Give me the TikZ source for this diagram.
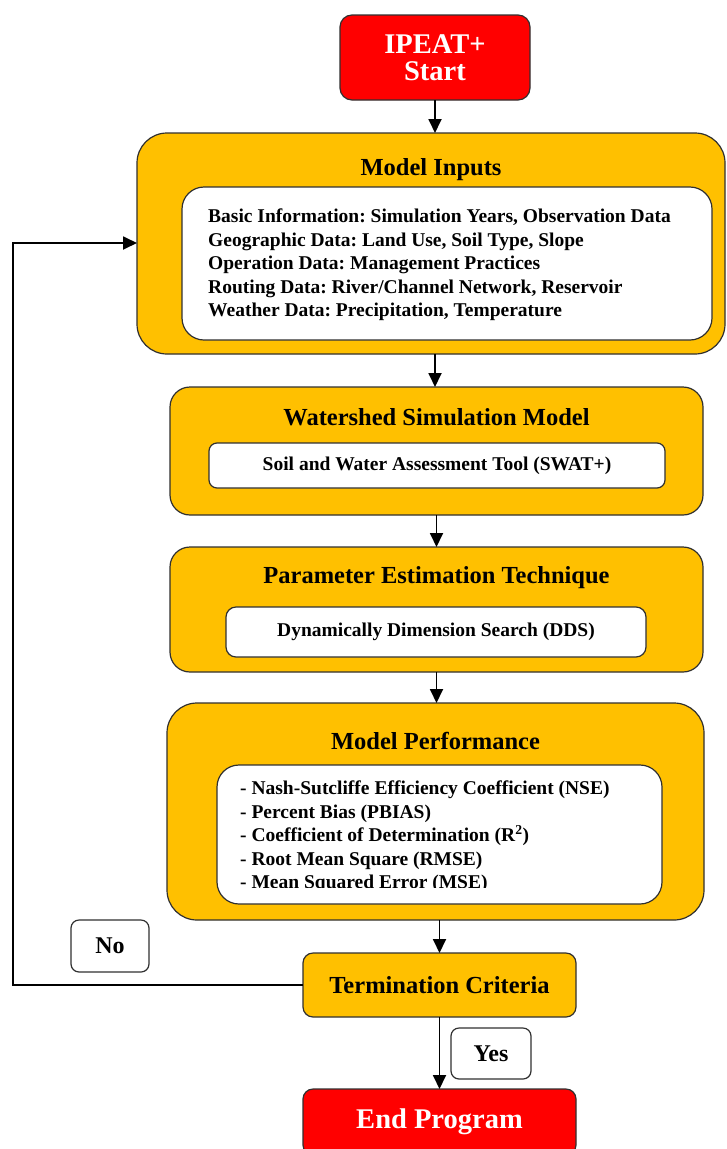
\documentclass[tikz,border=0pt]{standalone}
\usepackage{fontspec}
\setmainfont{Liberation Serif}
\usetikzlibrary{arrows.meta,calc}
\definecolor{gold}{HTML}{FFC000}
\definecolor{alarm}{HTML}{FF0000}
\definecolor{edge}{HTML}{303030}
\frenchspacing
\tikzset{
  base/.style={draw=edge, line width=1.2pt, inner sep=0pt, outer sep=0pt},
  redbox/.style={base, fill=alarm, text=white, rounded corners=12pt,
    font=\fontsize{28.5}{31}\selectfont\bfseries, align=center},
  goldbox/.style={base, fill=gold, rounded corners=#1},
  goldbox/.default=20pt,
  whitebox/.style={base, fill=white, rounded corners=#1},
  whitebox/.default=10pt,
  title/.style={font=\fontsize{24.5}{28}\selectfont\bfseries, inner sep=0pt},
  body/.style={font=\fontsize{19.5}{23.5}\selectfont\bfseries, inner sep=0pt},
  tag/.style={base, fill=white, rounded corners=8pt,
    font=\fontsize{24}{28}\selectfont\bfseries},
  arr/.style={draw=black, line width=1.8pt, -{Triangle[length=14pt,width=13pt]}}
}
\begin{document}
\begin{tikzpicture}[x=1pt,y=-1pt]
\useasboundingbox (0,0) rectangle (726,1149);
\clip (0,0) rectangle (726,1149);

% start
\node[redbox, minimum width=190pt, minimum height=85pt] (start) at (435,57.5)
  {IPEAT+\\[-4pt]Start};

% model inputs
\node[goldbox=30pt, minimum width=588pt, minimum height=221pt] (inputs) at (431,243.5) {};
\node[title] (inputsT) at (431,170) {Model Inputs};
\node[whitebox=22pt, minimum width=530pt, minimum height=153pt] (inputsIn) at (447,263.5) {};
\node[body, anchor=west, align=left] (inputsTx) at (208,265) {%
  Basic Information: Simulation Years, Observation Data\\
  Geographic Data: Land Use, Soil Type, Slope\\
  Operation Data: Management Practices\\
  Routing Data: River/Channel Network, Reservoir\\
  Weather Data: Precipitation, Temperature};

% watershed simulation model
\node[goldbox=20pt, minimum width=533pt, minimum height=128pt] (water) at (436.5,451) {};
\node[title] (waterT) at (436.5,417) {Watershed Simulation Model};
\node[whitebox=8pt, minimum width=456pt, minimum height=45pt, body] (waterIn) at (437,465.5)
  {Soil and Water Assessment Tool (SWAT+)};

% parameter estimation
\node[goldbox=20pt, minimum width=533pt, minimum height=125pt] (param) at (436.5,609.5) {};
\node[title] (paramT) at (436.5,578) {Parameter Estimation Technique};
\node[whitebox=10pt, minimum width=420pt, minimum height=50pt, body] (paramIn) at (436,632)
  {Dynamically Dimension Search (DDS)};

% model performance
\node[goldbox=30pt, minimum width=537pt, minimum height=217pt] (perf) at (435.5,811.5) {};
\node[title] (perfT) at (435.5,741) {Model Performance};
\node[whitebox=22pt, minimum width=445pt, minimum height=139pt] (perfIn) at (439.5,834.5) {};
\begin{scope}
  % the text frame cuts the foot of the last line
  \clip (220,770) rectangle (660,887);
  \node[body, anchor=west, align=left] (perfTx) at (240,837) {%
    - Nash-Sutcliffe Efficiency Coefficient (NSE)\\
    - Percent Bias (PBIAS)\\
    - Coefficient of Determination (R\textsuperscript{2})\\
    - Root Mean Square (RMSE)\\
    - Mean Squared Error (MSE)};
\end{scope}

% termination and end
\node[goldbox=10pt, minimum width=273pt, minimum height=64pt, title] (term) at (439.5,985)
  {Termination Criteria};
\node[tag, minimum width=78pt, minimum height=52pt] (no) at (110,946) {No};
\node[tag, minimum width=80pt, minimum height=51pt] (yes) at (491,1053.5) {Yes};
\node[redbox, rounded corners=10pt, minimum width=273pt, minimum height=66pt] (endp) at (439.5,1122)
  {End Program};

% connectors
\draw[arr] (start.south) -- (start.south |- inputs.north);
\draw[arr] (inputs.south -| start.south) -- (start.south |- water.north);
\draw[arr] (water.south) -- (param.north);
\draw[arr] (param.south) -- (param.south |- perf.north);
\draw[arr] (perf.south -| term.north) -- (term.north);
\draw[arr] (term.south) -- (endp.north);
\coordinate (loopB) at (13,985);
\coordinate (loopT) at (13,243);
\draw[arr] (term.west) -- (loopB) -- (loopT) -- (loopT -| inputs.west);
\end{tikzpicture}
\end{document}
